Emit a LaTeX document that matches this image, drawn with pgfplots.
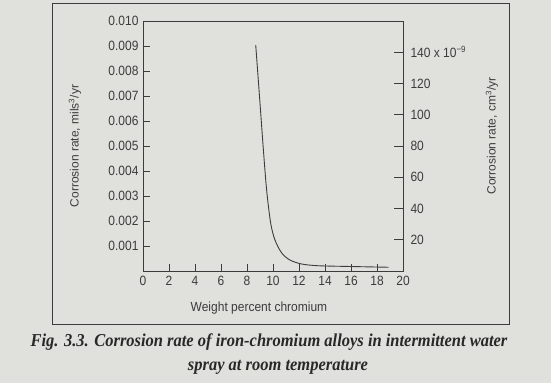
\documentclass[border=0pt]{standalone}
\usepackage{pgfplots}
\pgfplotsset{compat=1.18}
\usepackage{fontspec}
\setmainfont{Liberation Sans}
\newfontfamily\capfont{Liberation Serif}
\definecolor{bg}{RGB}{224,224,220}
\definecolor{ink}{RGB}{60,60,60}
\definecolor{capink}{RGB}{40,40,40}
\begin{document}
\begin{tikzpicture}[x=1pt,y=1pt]
\fill[bg] (0,0) rectangle (551,383);
\draw[ink, line width=0.8pt] (52,380) rectangle (509,59);
\begin{axis}[
  at={(143pt,112pt)}, anchor=south west,
  scale only axis, width=260pt, height=250pt,
  xmin=0, xmax=20, ymin=0, ymax=0.010,
  scaled y ticks=false, scaled x ticks=false,
  axis line style={ink, line width=0.8pt},
  tick style={ink, line width=0.8pt},
  tick align=inside, major tick length=7pt,
  xtick pos=bottom, ytick pos=left,
  xtick={0,2,...,20},
  xticklabels={0,2,4,6,8,10,12,14,16,18,20},
  ytick={0.001,0.002,0.003,0.004,0.005,0.006,0.007,0.008,0.009,0.010},
  yticklabels={0.001,0.002,0.003,0.004,0.005,0.006,0.007,0.008,0.009,0.010},
  tick label style={font=\fontsize{12}{14}\selectfont, text=ink, yscale=1.12},
  yticklabel style={xshift=-1pt},
  xticklabel style={yshift=-1pt},
  xlabel={Weight percent chromium},
  xlabel style={at={(axis description cs:0.446,-0.148)}, anchor=center, font=\fontsize{12}{14}\selectfont, text=ink, yscale=1.1},
  ylabel={Corrosion rate, mils\textsuperscript{3}/yr},
  ylabel style={at={(axis description cs:-0.2615,0.5)}, anchor=center, font=\fontsize{12}{14}\selectfont, text=ink},
]
\addplot[ink, line width=0.9pt, smooth, tension=0.5] coordinates {
  (8.67,0.00904) (8.96,0.0070) (9.25,0.00492) (9.51,0.00324) (9.82,0.00192)
  (10.15,0.00124) (10.67,0.00072) (11.3,0.00044) (12.2,0.00028)
  (13.5,0.00021) (16,0.00018) (18.9,0.00015)
};
\end{axis}
\begin{axis}[
  at={(143pt,112pt)}, anchor=south west,
  scale only axis, width=260pt, height=250pt,
  xmin=0, xmax=20, ymin=0, ymax=160,
  hide x axis,
  axis y line*=right,
  axis line style={ink, line width=0.8pt},
  tick style={ink, line width=0.8pt},
  tick align=inside, major tick length=9pt,
  ytick={20,40,60,80,100,120,140},
  yticklabels={20,40,60,80,100,120,{140 x 10\textsuperscript{−9}}},
  tick label style={font=\fontsize{12}{14}\selectfont, text=ink, yscale=1.12},
  yticklabel style={xshift=4pt},
  ylabel={Corrosion rate, cm\textsuperscript{3}/yr},
  ylabel style={at={(axis description cs:1.342,0.54)}, anchor=center, font=\fontsize{12}{14}\selectfont, text=ink},
]
\end{axis}
\node[capink, yscale=1.1, font=\capfont\bfseries\itshape\fontsize{16.5}{18}\selectfont] at (269,41) {Fig. 3.3. Corrosion rate of iron-chromium alloys in intermittent water};
\node[capink, yscale=1.1, font=\capfont\bfseries\itshape\fontsize{16.5}{18}\selectfont] at (278,16) {spray at room temperature};
\end{tikzpicture}
\end{document}
